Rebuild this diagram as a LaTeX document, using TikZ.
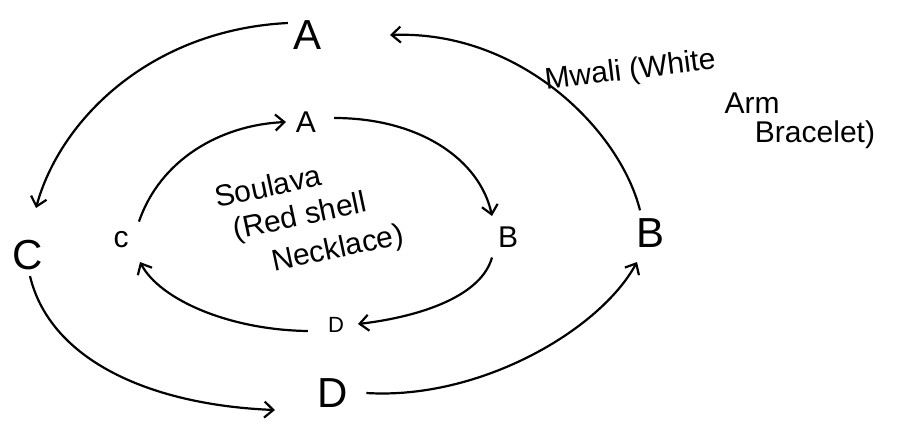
\documentclass[tikz,border=0pt]{standalone}
\usepackage{fontspec}
\setmainfont{Liberation Sans}
\usetikzlibrary{arrows.meta}
\begin{document}
\begin{tikzpicture}[x=1pt,y=-1pt,
  big/.style={font=\fontsize{42}{42}\selectfont, inner sep=2pt},
  small/.style={font=\fontsize{30}{30}\selectfont, inner sep=2pt},
  tiny/.style={font=\fontsize{22}{22}\selectfont, inner sep=2pt},
  lbl/.style={font=\fontsize{30}{32}\selectfont, inner sep=0pt},
  arr/.style={line width=2.2pt, -{Straight Barb[length=9pt,width=16pt,line width=2.2pt]}}]
\useasboundingbox (0,0) rectangle (899,426);
% outer
\node[big] (oA) at (308,35) {A};
\node[big] (oB) at (650,233) {B};
\node[big] (oD) at (333,393) {D};
\node[big] (oC) at (28,255) {C};
% inner
\node[small] (iA) at (306,122) {A};
\node[small] (iB) at (508,237) {B};
\node[tiny] (iD) at (336,325) {D};
\node[small] (ic) at (121,240) {c};
% outer arrows
\draw[arr] (oA.west) ++(-4,-12) coordinate (s1) (s1) .. controls (150,30) and (60,120) .. (36,208) coordinate (e1);
\draw[arr] (oC.south) ++(2,4) coordinate (s2) (s2) .. controls (50,360) and (150,405) .. (275,410) coordinate (e2);
\draw[arr] (oD.east) ++(16,0) coordinate (s3) (s3) .. controls (480,400) and (600,330) .. (637,262) coordinate (e3);
\draw[arr] (oB.north) ++(-10,-6) coordinate (s4) (s4) .. controls (620,130) and (520,30) .. (390,35) coordinate (e4);
% inner arrows
\draw[arr] (ic.north) ++(18,-8) coordinate (s5) (s5) .. controls (160,160) and (220,125) .. (286,122) coordinate (e5);
\draw[arr] (iA.east) ++(16,-4) coordinate (s6) (s6) .. controls (420,118) and (480,160) .. (492,216) coordinate (e6);
\draw[arr] (iB.south) ++(-16,8) coordinate (s7) (s7) .. controls (480,300) and (410,318) .. (358,324) coordinate (e7);
\draw[arr] (iD.west) ++(-18,6) coordinate (s8) (s8) .. controls (230,330) and (160,300) .. (140,262) coordinate (e8);
% labels
\node[lbl, rotate=12] (s1l) at (268,186) {Soulava};
\node[lbl, rotate=12] (s2l) at (300,218) {(Red shell};
\node[lbl, rotate=12] (s3l) at (338,250) {Necklace)};
\node[lbl, rotate=7, anchor=west] (mw) at (545,82) {Mwali (White};
\node[lbl] (arm) at (752,103) {Arm};
\node[lbl] (brc) at (815,135) {Bracelet)};
\end{tikzpicture}
\end{document}
